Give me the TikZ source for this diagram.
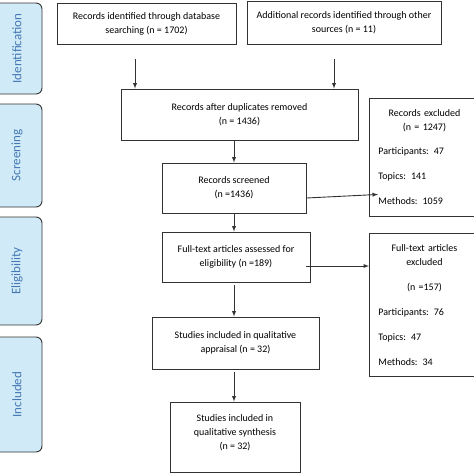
\documentclass[tikz,border=0pt]{standalone}
\usepackage{fontspec}
\setmainfont{Carlito}
\usepackage{xcolor}
\usetikzlibrary{positioning, calc}
\usetikzlibrary{shapes, arrows, shadows}
\definecolor{phasefill}{RGB}{208,234,248}
\definecolor{phasetext}{RGB}{70,120,180}
\definecolor{boxline}{RGB}{50,50,50}
\newcommand{\midline}[1]{\makebox[92pt]{#1}}

\begin{document}
\begin{tikzpicture}[x=1pt, y=-1pt, font=\fontsize{10}{14}\selectfont,
    flowbox/.style={rectangle, draw=boxline, fill=white, line width=0.9pt,
      align=center, inner sep=0pt},
    exclbox/.style={rectangle, draw=boxline, fill=white, line width=0.9pt,
      anchor=north west, inner sep=0pt, minimum width=110, text width=92,
      align=left},
    phasebox/.style={rectangle, rounded corners=6pt, draw=boxline,
      fill=phasefill, line width=0.9pt, minimum width=52},
    phaselabel/.style={rotate=90, text=phasetext, font=\fontsize{13}{15}\selectfont},
    flowarrow/.style={-latex, line width=0.9pt, draw=boxline}, ]
    \useasboundingbox (0,0) rectangle (474,474);
    % Phases
    \node[phasebox, minimum height=91] (ident) at (16,48.5) {};
    \node[phaselabel] at (17,48.5) {Identification};
    \node[phasebox, minimum height=103] (screen) at (16,155.5) {};
    \node[phaselabel] at (17,155.5) {Screening};
    \node[phasebox, minimum height=108] (elig) at (16,271) {};
    \node[phaselabel] at (17,271) {Eligibility};
    \node[phasebox, minimum height=115] (incl) at (16,394.5) {};
    \node[phaselabel] at (17,394.5) {Included};
    % Nodes
    \node[flowbox, minimum width=179, minimum height=41] (database) at (146.5,23.5)
    {Records identified through database\\searching (n = 1702)};
    \node[flowbox, minimum width=194, minimum height=43] (other) at (344,22.5)
    {Additional records identified through other\\sources (n = 11)};
    \node[flowbox, minimum width=237, minimum height=51] (dupl) at (239.5,114.5)
    {Records after duplicates removed\\(n = 1436)};
    \node[flowbox, minimum width=144, minimum height=50] (screened) at (234,188)
    {Records screened\\(n =1436)};
    \node[flowbox, minimum width=148, minimum height=50] (fulltext) at (236,257)
    {Full-text articles assessed for\\eligibility (n =189)};
    \node[flowbox, minimum width=167, minimum height=52] (appraisal) at (235.5,343)
    {Studies included in qualitative\\appraisal (n = 32)};
    \node[flowbox, minimum width=130, minimum height=70] (synthesis) at (235,437)
    {Studies included in\\qualitative synthesis\\(n = 32)\\[-4pt]};
    \node[exclbox, minimum height=118] (recexcl) at (369,98)
    {\midline{Records excluded}\\\midline{(n = 1247)}\\[10pt]
      Participants: 47\\[11pt]
      Topics: 141\\[11pt]
      Methods: 1059};
    \node[exclbox, minimum height=143] (fullexcl) at (369,233)
    {\midline{Full-text articles}\\\midline{excluded}\\[11pt]
      \midline{(n =157)}\\[11pt]
      Participants: 76\\[11pt]
      Topics: 47\\[11pt]
      Methods: 34};
    % Lines
    \draw[flowarrow] ($(database.south)+(-11.5,15)$) -- (dupl.north -| 135,0);
    \draw[flowarrow] ($(other.south)+(-10,15)$) -- (dupl.north -| 334,0);
    \draw[flowarrow] (dupl.south -| screened.north) -- (screened.north);
    \draw[flowarrow] ($(screened.east)+(0,10)$) -- ($(recexcl.west)+(9,37)$);
    \draw[flowarrow] (screened.south) -- (screened.south |- fulltext.north);
    \draw[flowarrow] ($(fulltext.east)+(-4,9)$) -- ($(fulltext.east -| fullexcl.west)+(0,9)$);
    \draw[flowarrow] ($(fulltext.south)+(-2,3)$) -- (appraisal.north -| 234,0);
    \draw[flowarrow] ($(appraisal.south)+(-1.5,3)$) -- (synthesis.north -| 234,0);
  \end{tikzpicture}
\end{document}
